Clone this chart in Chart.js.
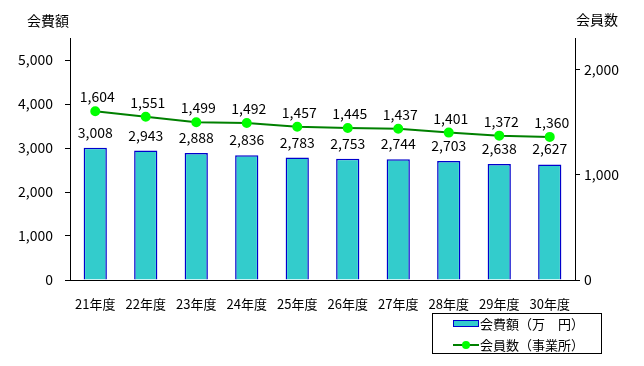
<!DOCTYPE html>
<html>
<head>
<meta charset="utf-8">
<script src="https://cdn.jsdelivr.net/npm/chart.js@4/dist/chart.umd.min.js"></script>
<style>
  body { margin: 0; background: #fff; }
  #wrap { width: 644px; height: 366px; position: relative; }
</style>
</head>
<body>
<div id="wrap"><canvas id="feeChart"></canvas></div>
<script>
const categories = ["21年度", "22年度", "23年度", "24年度", "25年度", "26年度", "27年度", "28年度", "29年度", "30年度"];
const feeValues = [3008, 2943, 2888, 2836, 2783, 2753, 2744, 2703, 2638, 2627];
const memberValues = [1604, 1551, 1499, 1492, 1457, 1445, 1437, 1401, 1372, 1360];
const feeTicks = [0, 1000, 2000, 3000, 4000, 5000];
const memberTicks = [0, 1000, 2000];
const feeLabel = "会費額（万　円）";
const memberLabel = "会員数（事業所）";

const FONT = "'Noto Sans CJK JP', 'Noto Sans', sans-serif";
const fmt = v => v.toLocaleString("en-US");

// value labels above bars and points
const valueLabels = {
  id: "valueLabels",
  afterDatasetsDraw(chart) {
    const ctx = chart.ctx;
    ctx.save();
    ctx.font = "14px " + FONT;
    ctx.fillStyle = "#000";
    ctx.textAlign = "center";
    ctx.textBaseline = "alphabetic";
    chart.data.datasets.forEach((ds, i) => {
      const meta = chart.getDatasetMeta(i);
      const off = ds.type === "line" ? 9 : 10;
      meta.data.forEach((el, j) => {
        ctx.fillText(fmt(ds.data[j]), el.x + (ds.type === "line" ? 2 : 0), el.y - off);
      });
    });
    ctx.restore();
  }
};

// axis titles and boxed legend
const extras = {
  id: "extras",
  afterDraw(chart) {
    const ctx = chart.ctx;
    ctx.save();
    ctx.font = "14px " + FONT;
    ctx.fillStyle = "#000";
    ctx.textBaseline = "middle";
    ctx.textAlign = "center";
    ctx.fillText("会費額", 48, 21);
    ctx.fillText("会員数", 597, 20);

    // legend
    const bx = 432, by = 313, bw = 169, bh = 40;
    ctx.strokeStyle = "#000";
    ctx.lineWidth = 1;
    ctx.strokeRect(bx + 0.5, by + 0.5, bw, bh);
    ctx.font = "13px " + FONT;
    ctx.textAlign = "left";
    const bar = chart.data.datasets[1];
    const line = chart.data.datasets[0];
    ctx.fillStyle = bar.backgroundColor;
    ctx.fillRect(453, 320, 25, 6);
    ctx.strokeStyle = bar.borderColor;
    ctx.strokeRect(453.5, 320.5, 25, 6);
    ctx.fillStyle = "#000";
    ctx.fillText(bar.label, 480, 324);
    ctx.strokeStyle = line.borderColor;
    ctx.lineWidth = 2;
    ctx.beginPath();
    ctx.moveTo(453, 345);
    ctx.lineTo(479, 345);
    ctx.stroke();
    ctx.fillStyle = line.pointBackgroundColor;
    ctx.beginPath();
    ctx.arc(466, 345, 4, 0, Math.PI * 2);
    ctx.fill();
    ctx.fillStyle = "#000";
    ctx.fillText(line.label, 480, 345);
    ctx.restore();
  }
};

new Chart(document.getElementById("feeChart"), {
  data: {
    labels: categories,
    datasets: [
      {
        type: "line",
        label: memberLabel,
        data: memberValues,
        yAxisID: "yMembers",
        borderColor: "#008000",
        borderWidth: 2,
        pointBackgroundColor: "#00ff00",
        pointBorderColor: "#00ff00",
        pointRadius: 4,
        tension: 0,
        order: 0
      },
      {
        type: "bar",
        label: feeLabel,
        data: feeValues,
        yAxisID: "yFee",
        backgroundColor: "#33cccc",
        borderColor: "#0000cc",
        borderWidth: 1.5,
        barPercentage: 0.46,
        categoryPercentage: 1,
        order: 1
      }
    ]
  },
  options: {
    responsive: true,
    maintainAspectRatio: false,
    animation: false,
    layout: { padding: { top: 38, left: 0, right: 0, bottom: 0 } },
    plugins: {
      legend: { display: false },
      tooltip: { enabled: false }
    },
    scales: {
      x: {
        grid: { display: false },
        border: { color: "#000", width: 1 },
        ticks: { color: "#000", font: { family: FONT, size: 13 }, padding: 8, maxRotation: 0, autoSkip: false },
        afterFit(s) { s.height = 86; }
      },
      yFee: {
        position: "left",
        min: 0,
        max: 5500,
        grid: { drawOnChartArea: false, drawTicks: true, tickLength: 5, color: "#000" },
        border: { color: "#000", width: 1 },
        ticks: {
          stepSize: 1000,
          color: "#000",
          font: { family: FONT, size: 14 },
          padding: 12,
          callback: v => fmt(v)
        },
        afterBuildTicks(s) { s.ticks = feeTicks.map(v => ({ value: v })); },
        afterFit(s) { s.width = 70; }
      },
      yMembers: {
        position: "right",
        min: 0,
        max: 2300,
        grid: { drawOnChartArea: false, drawTicks: true, tickLength: 5, color: "#000" },
        border: { color: "#000", width: 1 },
        ticks: {
          stepSize: 1000,
          color: "#000",
          font: { family: FONT, size: 14 },
          padding: 4,
          callback: v => fmt(v)
        },
        afterBuildTicks(s) { s.ticks = memberTicks.map(v => ({ value: v })); },
        afterFit(s) { s.width = 69; }
      }
    }
  },
  plugins: [valueLabels, extras]
});
</script>
</body>
</html>
